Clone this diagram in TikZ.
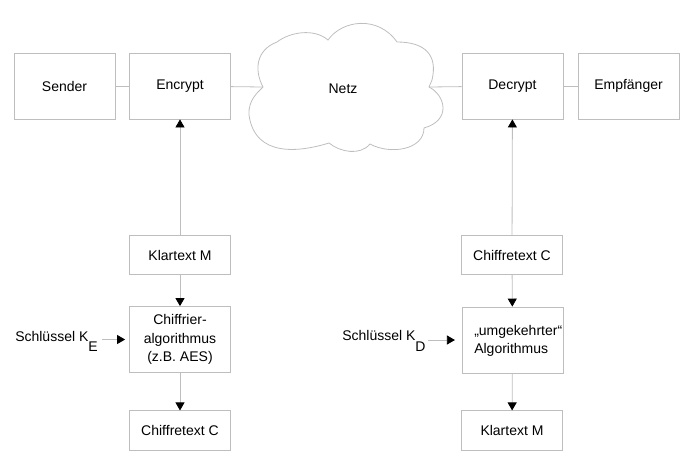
\documentclass[tikz,border=0pt]{standalone}
\usepackage{fontspec}
\setmainfont{Liberation Sans}
\usetikzlibrary{arrows.meta}
\definecolor{lg}{RGB}{190,190,190}
\begin{document}
\begin{tikzpicture}[x=0.75pt,y=-0.75pt,
  txt/.style={font=\fontsize{10.5}{14}\selectfont},
  box/.style={txt,draw=lg,line width=0.6pt,minimum width=75.75pt,minimum height=49.5pt,inner sep=0pt,align=center},
  sbox/.style={box,minimum height=29.5pt},
  lbl/.style={txt,inner sep=0pt,align=left},
  conn/.style={draw=lg,line width=0.6pt},
  arr/.style={conn,-{Triangle[black,width=6.75pt,length=6pt]}}]
\useasboundingbox (0,0) rectangle (692,469);

% top row
\node[box] (sender) at (64.5,86) {Sender};
\node[box] (encrypt) at (180,86) {Encrypt};
\node[box] (decrypt) at (512.5,86) {Decrypt};
\node[box] (empf) at (628.5,86) {Empfänger};

% cloud
\coordinate (cl) at (263,87);
\coordinate (cr) at (429,87);
\draw[conn] (cl) .. controls (254,70) and (256,50) .. (277,42)
  .. controls (290,32) and (314,28) .. (328,40)
  .. controls (342,20) and (378,15) .. (397,42)
  .. controls (425,42) and (438,55) .. (432,80) -- (cr)
  .. controls (445,95) and (452,120) .. (424,128)
  .. controls (424,150) and (390,155) .. (370,144)
  .. controls (360,156) and (340,152) .. (329,143)
  .. controls (300,152) and (255,158) .. (249,115)
  .. controls (248,100) and (258,92) .. (cl);
\node[txt] (netz) at (343,89) {Netz};

\draw[conn] (sender) -- (encrypt);
\draw[conn] (encrypt) -- (cl);
\draw[conn] (cr) -- (decrypt);
\draw[conn] (decrypt) -- (empf);

% left column
\node[sbox] (klarL) at (180,255) {Klartext M};
\node[box] (chiffL) at (180,339.5) {Chiffrier-\\algorithmus\\(z.B. AES)};
\node[sbox] (ctextL) at (180,430.5) {Chiffretext C};
\node[lbl,anchor=west] (keyL) at (15,341) {Schlüssel K\raisebox{-7.5pt}{E}};

\draw[arr] (klarL) -- (encrypt);
\draw[arr] (klarL) -- (chiffL);
\draw[arr] (chiffL) -- (ctextL);
\draw[arr,shorten <=3pt,shorten >=3pt] (keyL.east |- chiffL.west) -- (chiffL.west);

% right column
\node[sbox] (ctextR) at (512,255) {Chiffretext C};
\node[box] (umg) at (512.5,340) {};
\node[lbl,anchor=west] (umgtxt) at (474,341) {„umgekehrter“\\Algorithmus};
\node[sbox] (klarR) at (512,430.5) {Klartext M};
\node[lbl,anchor=west] (keyR) at (342,341) {Schlüssel K\raisebox{-8.5pt}{D}};

\draw[arr] (ctextR) -- (decrypt);
\draw[arr] (ctextR) -- (umg);
\draw[arr] (umg) -- (klarR);
\draw[arr,shorten <=2pt,shorten >=5pt] (keyR.east |- umg.west) -- (umg.west);
\end{tikzpicture}
\end{document}
